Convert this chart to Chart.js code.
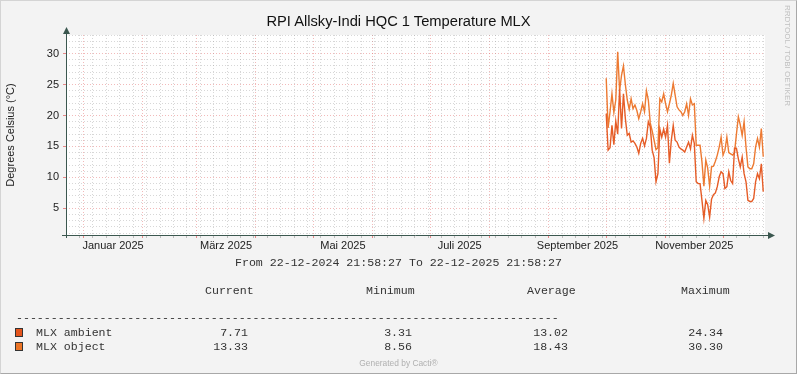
<!DOCTYPE html>
<html lang="de">
<head>
    <meta charset="UTF-8">
    <title>RPI Allsky-Indi HQC 1 Temperature MLX</title>
    <script src="https://cdn.jsdelivr.net/npm/chart.js@4/dist/chart.umd.min.js"></script>
    <style>
        body {
            margin: 0;
            background-color: #f3f3f3;
        }
        .graph {
            position: relative;
            width: 797px;
            height: 374px;
            overflow: hidden;
            font-family: "Liberation Sans", Arial, sans-serif;
        }
        #chart {
            position: absolute;
            left: 0;
            top: 0;
        }
        .frame {
            position: absolute;
            left: 0;
            top: 0;
            width: 795px;
            height: 372px;
            border: 1px solid #a8a8a8;
            border-top-color: #d4d4d4;
            border-left-color: #d4d4d4;
            pointer-events: none;
        }
        .title {
            position: absolute;
            left: 0;
            width: 797px;
            top: 12px;
            text-align: center;
            font-size: 14.7px;
            line-height: 18px;
            color: #111;
        }
        .mono {
            position: absolute;
            font-family: "Liberation Mono", "Courier New", monospace;
            font-size: 11.6px;
            line-height: 14px;
            color: #333;
            white-space: pre;
        }
        .right {
            text-align: right;
        }
        .box {
            position: absolute;
            width: 6px;
            height: 7px;
            border: 1px solid #333;
        }
        .credit {
            position: absolute;
            left: 0;
            width: 797px;
            top: 358px;
            text-align: center;
            font-size: 8.4px;
            line-height: 10px;
            color: #b0b0b0;
        }
        .rrd {
            position: absolute;
            left: 783px;
            top: 5px;
            writing-mode: vertical-rl;
            font-size: 8px;
            line-height: 9px;
            color: #c0c0c0;
        }
    </style>
</head>
<body>
<div class="graph">
    <canvas id="chart" width="797" height="374"></canvas>
    <div class="title" id="title"></div>
    <div class="rrd">RRDTOOL / TOBI OETIKER</div>
    <div id="legend"></div>
    <div class="credit">Generated by Cacti®</div>
    <div class="frame"></div>
</div>

<script>
    // Zeitraum des Graphen
    const rangeStart = Date.UTC(2024, 11, 22, 21, 58, 27);
    const rangeEnd = Date.UTC(2025, 11, 22, 21, 58, 27);
    const DAY = 86400000;

    // Tageswerte ab 01.10.2025
    const firstDay = Date.UTC(2025, 9, 1);
    const mlxAmbient = [
        20.3, 14.4, 14.8, 18.4, 15.3, 19.1, 17, 24.3, 17.9, 23.5,
        19.5, 16.8, 17.1, 15.7, 15.9, 15.5, 14.9, 13.9, 15.5, 16.3,
        15.1, 16.3, 19, 18.2, 14.4, 13.2, 9.3, 10.6, 17.8, 16.5,
        17.8, 16.5, 18.4, 12.3, 16, 18.4, 16, 15.7, 14.9, 14.6,
        14.4, 14.1, 14.9, 15.7, 14.6, 16.8, 15.5, 9.3, 9.0, 9.0,
        6.3, 3.4, 6.3, 5.6, 3.6, 6.5, 7.2, 7.5, 8.5, 10.1,
        10.9, 10.6, 8.2, 8.5, 10.9, 9.5, 9.0, 14.7, 14.7, 13,
        11.7, 13.3, 10.6, 9.3, 6.3, 6.1, 6.1, 6.6, 9.3, 10.6,
        9.8, 12.2, 7.71
    ];
    const mlxObject = [
        26, 18, 20.6, 23.5, 20.5, 22.5, 30.3, 24, 26.5, 28,
        25, 22.5, 21, 22.7, 21.1, 21.7, 20.8, 19.5, 20.6, 21.9,
        20.6, 24, 22.5, 18.8, 17.5, 16, 14.5, 14.8, 22.7, 22.2,
        23.5, 21.9, 20.6, 21.9, 23.3, 25.2, 23.3, 21.4, 20.9, 20.6,
        20, 20.6, 21.9, 20, 22.7, 21.7, 21.9, 15.2, 15.2, 15.2,
        12.5, 8.6, 12.8, 11.5, 8.6, 11.7, 11.8, 12.6, 13.6, 14.9,
        16.5, 13.6, 14.4, 16.5, 14, 13.8, 13.6, 14, 17, 19.8,
        18.5, 16.8, 19, 14.9, 11.7, 11.4, 11.4, 12.2, 14.9, 16.3,
        14.9, 17.9, 13.33
    ];

    const seriesNames = ['MLX ambient', 'MLX object'];
    const seriesColors = ['#e4541c', '#eb7426'];
    const lineColors = ['#e65c26', '#ed7a32'];
    const statHeaders = ['Current', 'Minimum', 'Average', 'Maximum'];
    const statValues = [
        ['7.71', '3.31', '13.02', '24.34'],
        ['13.33', '8.56', '18.43', '30.30']
    ];

    const monthNames = ['Januar', 'Februar', 'März', 'April', 'Mai', 'Juni',
        'Juli', 'August', 'September', 'Oktober', 'November', 'Dezember'];
    const labelMonths = [0, 2, 4, 6, 8, 10];

    const yMin = 0.7;
    const yMax = 33;

    // Gitter: Montage (klein), Monatsanfang (gross), Beschriftung in Monatsmitte
    const weekTicks = [];
    for (let t = Date.UTC(2024, 11, 23); t <= rangeEnd; t += 7 * DAY) weekTicks.push(t);
    const monthTicks = [];
    for (let m = 0; m < 12; m++) monthTicks.push(Date.UTC(2025, m, 1));
    const labelTicks = {};
    labelMonths.forEach(m => {
        const mid = (Date.UTC(2025, m, 1) + Date.UTC(2025, m + 1, 1)) / 2;
        labelTicks[mid] = monthNames[m] + ' 2025';
    });
    const monthSet = new Set(monthTicks);
    const xTickValues = Array.from(new Set([...weekTicks, ...monthTicks,
        ...Object.keys(labelTicks).map(Number)])).sort((a, b) => a - b);

    const minorGrid = 'rgba(150, 150, 150, 0.38)';
    const majorGrid = 'rgba(225, 90, 90, 0.42)';
    const axisColor = '#3b574f';

    function toPoints(values) {
        return values.map((v, i) => ({ x: firstDay + i * DAY, y: v }));
    }

    document.getElementById('title').textContent = 'RPI Allsky-Indi HQC 1 Temperature MLX';

    // Legende unter dem Graphen
    const legend = document.getElementById('legend');
    function addText(text, left, centerY, rightEdge) {
        const el = document.createElement('div');
        el.className = 'mono' + (rightEdge ? ' right' : '');
        el.textContent = text;
        el.style.top = (centerY - 7) + 'px';
        if (rightEdge) {
            el.style.left = (rightEdge - 100) + 'px';
            el.style.width = '100px';
        } else {
            el.style.left = left + 'px';
        }
        legend.appendChild(el);
    }
    const fromEl = document.createElement('div');
    fromEl.className = 'mono';
    fromEl.textContent = 'From 22-12-2024 21:58:27 To 22-12-2025 21:58:27';
    fromEl.style.left = '0';
    fromEl.style.width = '797px';
    fromEl.style.textAlign = 'center';
    fromEl.style.top = '256px';
    legend.appendChild(fromEl);

    const headerLeft = [205, 366, 527, 681];
    const valueRight = [248, 412, 568, 723];
    statHeaders.forEach((h, i) => addText(h, headerLeft[i], 291));
    addText('-'.repeat(78), 16, 318);
    seriesNames.forEach((name, r) => {
        const y = 333 + r * 14;
        const box = document.createElement('div');
        box.className = 'box';
        box.style.left = '15px';
        box.style.top = (y - 5) + 'px';
        box.style.background = seriesColors[r];
        legend.appendChild(box);
        addText(name, 36, y);
        statValues[r].forEach((v, c) => addText(v, 0, y, valueRight[c]));
    });

    // Hintergrund der Zeichenflaeche und Achsen mit Pfeilen
    const rrdAxes = {
        id: 'rrdAxes',
        beforeDraw(chart) {
            const { ctx, chartArea: a } = chart;
            ctx.save();
            ctx.fillStyle = '#ffffff';
            ctx.fillRect(a.left, a.top, a.right - a.left, a.bottom - a.top);
            ctx.restore();
        },
        afterDraw(chart) {
            const { ctx, chartArea: a } = chart;
            const x0 = Math.round(a.left) + 0.5;
            const y0 = Math.round(a.bottom) + 0.5;
            ctx.save();
            ctx.strokeStyle = axisColor;
            ctx.fillStyle = axisColor;
            ctx.lineWidth = 1;
            ctx.beginPath();
            ctx.moveTo(a.left - 4, y0);
            ctx.lineTo(a.right + 4, y0);
            ctx.moveTo(x0, a.bottom + 3);
            ctx.lineTo(x0, a.top - 2);
            ctx.stroke();
            ctx.beginPath();
            ctx.moveTo(a.right + 10, y0);
            ctx.lineTo(a.right + 3, y0 - 3.5);
            ctx.lineTo(a.right + 3, y0 + 3.5);
            ctx.closePath();
            ctx.fill();
            ctx.beginPath();
            ctx.moveTo(x0, a.top - 8);
            ctx.lineTo(x0 - 3.5, a.top - 1);
            ctx.lineTo(x0 + 3.5, a.top - 1);
            ctx.closePath();
            ctx.fill();
            ctx.restore();
        }
    };

    const tickFont = { family: '"Liberation Sans", Arial, sans-serif', size: 11 };

    new Chart(document.getElementById('chart'), {
        type: 'line',
        data: {
            datasets: [{
                label: seriesNames[0],
                data: toPoints(mlxAmbient),
                borderColor: lineColors[0],
                borderWidth: 1.4,
                pointRadius: 0
            }, {
                label: seriesNames[1],
                data: toPoints(mlxObject),
                borderColor: lineColors[1],
                borderWidth: 1.4,
                pointRadius: 0
            }]
        },
        options: {
            responsive: false,
            animation: false,
            layout: { padding: { left: 0, right: 32, top: 35, bottom: 0 } },
            plugins: {
                legend: { display: false },
                tooltip: { enabled: false },
                title: { display: false }
            },
            scales: {
                x: {
                    type: 'linear',
                    min: rangeStart,
                    max: rangeEnd,
                    bounds: 'data',
                    afterBuildTicks: scale => {
                        scale.ticks = xTickValues.map(v => ({ value: v }));
                    },
                    afterFit: scale => { scale.height = 139; },
                    border: { display: false, dash: [1, 2] },
                    grid: {
                        lineWidth: 1,
                        tickLength: 3,
                        color: ctx => {
                            const v = ctx.tick ? ctx.tick.value : 0;
                            if (labelTicks[v]) return 'rgba(0,0,0,0)';
                            return monthSet.has(v) ? majorGrid : minorGrid;
                        },
                        tickColor: ctx => {
                            const v = ctx.tick ? ctx.tick.value : 0;
                            if (labelTicks[v]) return 'rgba(0,0,0,0)';
                            return monthSet.has(v) ? 'rgba(225, 90, 90, 0.7)' : 'rgba(150, 150, 150, 0.6)';
                        }
                    },
                    ticks: {
                        autoSkip: false,
                        maxRotation: 0,
                        minRotation: 0,
                        padding: 1,
                        color: '#222',
                        font: tickFont,
                        callback: v => labelTicks[v] || ''
                    }
                },
                y: {
                    min: yMin,
                    max: yMax,
                    bounds: 'data',
                    afterBuildTicks: scale => {
                        const t = [];
                        for (let v = 1; v <= yMax; v++) t.push({ value: v });
                        scale.ticks = t;
                    },
                    afterFit: scale => { scale.width = 66; },
                    border: { display: false, dash: [1, 2] },
                    grid: {
                        lineWidth: 1,
                        tickLength: 3,
                        color: ctx => (ctx.tick && ctx.tick.value % 5 === 0) ? majorGrid : minorGrid,
                        tickColor: ctx => (ctx.tick && ctx.tick.value % 5 === 0) ? 'rgba(225, 90, 90, 0.7)' : 'rgba(0,0,0,0)'
                    },
                    ticks: {
                        autoSkip: false,
                        padding: 4,
                        color: '#222',
                        font: tickFont,
                        callback: v => (v % 5 === 0 ? String(v) : '')
                    },
                    title: {
                        display: true,
                        text: 'Degrees Celsius (°C)',
                        color: '#222',
                        font: tickFont,
                        padding: { top: 4, bottom: 0 }
                    }
                }
            }
        },
        plugins: [rrdAxes]
    });
</script>
</body>
</html>
